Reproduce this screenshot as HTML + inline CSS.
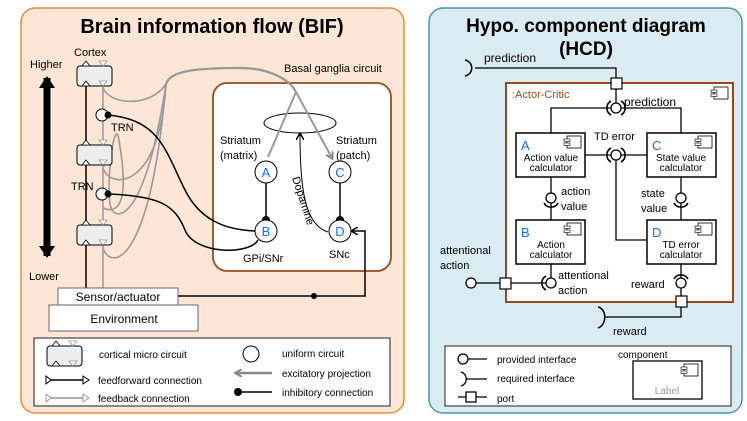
<!DOCTYPE html>
<html><head><meta charset="utf-8"><style>
html,body{margin:0;padding:0;background:#fff;}
svg{display:block;font-family:"Liberation Sans",sans-serif;}
</style></head><body>
<svg width="747" height="421" viewBox="0 0 747 421" xmlns="http://www.w3.org/2000/svg">
<defs>
<marker id="ga" markerWidth="8" markerHeight="8" refX="6" refY="4" orient="auto" markerUnits="userSpaceOnUse"><path d="M0,0 L7,4 L0,8" fill="none" stroke="#888" stroke-width="2"/></marker>
<marker id="ba" markerWidth="8" markerHeight="8" refX="6" refY="4" orient="auto" markerUnits="userSpaceOnUse"><path d="M0,0 L7,4 L0,8" fill="none" stroke="#000" stroke-width="1.5"/></marker>
<g id="cb"><rect x="0" y="0" width="35" height="20" rx="3" fill="#eee" stroke="#000" stroke-width="1"/>
<path d="M5,0 L9,-5 L13,0Z M5,20 L9,15 L13,20Z" fill="#fff" stroke="#000" stroke-width="0.8"/>
<path d="M22,-5 L30,-5 L26,0Z M22,15 L30,15 L26,20Z" fill="#fff" stroke="#999" stroke-width="0.8"/></g>
<g id="ci"><rect x="0" y="0" width="14" height="12" fill="#fff" stroke="#000" stroke-width="0.8"/><rect x="-3" y="3" width="6" height="2.5" fill="#fff" stroke="#000" stroke-width="0.6"/><rect x="-3" y="7" width="6" height="2.5" fill="#fff" stroke="#000" stroke-width="0.6"/></g>
</defs>
<!-- LEFT PANEL -->
<rect x="21" y="8" width="383" height="405" rx="14" fill="#fde6d5" stroke="#ea8a3c" stroke-width="1.5"/>
<text x="212" y="33" font-size="20" font-weight="bold" text-anchor="middle">Brain information flow (BIF)</text>
<text x="74" y="56" font-size="11">Cortex</text>
<text x="30" y="68" font-size="11">Higher</text>
<text x="29" y="280" font-size="11">Lower</text>
<path d="M47,78 L47,256" stroke="#000" stroke-width="7"/>
<path d="M39,88 L47,76 L55,88Z M39,246 L47,258 L55,246Z" fill="#000"/>
<path d="M86,288 L86,85" stroke="#000" stroke-width="1.5"/>
<path d="M103,288 L103,85" stroke="#999" stroke-width="1.5"/>
<g fill="none" stroke="#999" stroke-width="1.6">
<path d="M103,88 C110,105 150,108 166,84"/>
<path d="M166,84 C170,70 200,68 240,68 C270,68 290,80 296,92" stroke-width="2.2"/>
<path d="M103,168 C110,190 160,190 166,84"/>
<path d="M103,248 C110,270 150,270 166,84"/>
<path d="M103,208 C120,215 130,200 118,135 C112,125 105,200 112,210 C118,220 145,220 166,84"/>
</g>
<use href="#cb" x="77" y="66"/>
<use href="#cb" x="77" y="145"/>
<use href="#cb" x="77" y="225"/>
<circle cx="102" cy="115" r="6" fill="#fff" stroke="#000"/><circle cx="108" cy="115" r="3.5" fill="#000"/>
<circle cx="102" cy="194" r="6" fill="#fff" stroke="#000"/><circle cx="108" cy="194" r="3.5" fill="#000"/>
<text x="111" y="131" font-size="11">TRN</text>
<text x="71" y="190" font-size="11">TRN</text>
<text x="284" y="72" font-size="11">Basal ganglia circuit</text>
<rect x="213" y="83" width="178" height="188" rx="14" fill="#fff" stroke="#9a4a1a" stroke-width="1.8"/>
<ellipse cx="300" cy="123" rx="36" ry="10" fill="#fff" stroke="#000"/>
<path d="M296,92 L268,157 M296,92 L332,158" stroke="#999" stroke-width="2" marker-end="url(#ga)" fill="none"/>
<path d="M240,68 C270,68 290,80 296,92" stroke="#999" stroke-width="2.2" fill="none"/>
<g fill="none" stroke="#000" stroke-width="1.5">
<path d="M108,115 C160,120 165,150 185,190 C200,220 225,230 256,231"/>
<path d="M108,194 C160,196 175,205 185,230 C195,255 250,255 258,240"/>
<path d="M178,296 L365,296 L365,231 L352,231" marker-end="url(#ba)"/>
<path d="M328,232 C305,225 300,190 300,134" marker-end="url(#ba)" stroke-width="1"/>
<path d="M266,183 L266,220 M340,183 L340,220"/>
</g>
<circle cx="314" cy="296" r="3" fill="#000"/>
<circle cx="266" cy="220" r="4" fill="#000"/><circle cx="340" cy="220" r="4" fill="#000"/>
<g stroke="#000" fill="#fff">
<circle cx="266" cy="172" r="11"/><circle cx="340" cy="172" r="11"/>
<circle cx="266" cy="231" r="11"/><circle cx="340" cy="231" r="11"/>
</g>
<g font-size="13" fill="#1a6fe0" text-anchor="middle">
<text x="266" y="177">A</text><text x="340" y="177">C</text><text x="266" y="236">B</text><text x="340" y="236">D</text>
</g>
<g font-size="11">
<text x="220" y="144">Striatum</text><text x="220" y="159">(matrix)</text>
<text x="336" y="144">Striatum</text><text x="336" y="159">(patch)</text>
<text x="243" y="262">GPi/SNr</text><text x="329" y="258">SNc</text>
<text transform="translate(292,178) rotate(72)">Dopamine</text>
</g>
<rect x="49" y="305" width="149" height="26" fill="#fff" stroke="#666"/>
<text x="124" y="323" font-size="12" text-anchor="middle">Environment</text>
<rect x="58" y="288" width="120" height="17" fill="#fff" stroke="#666"/>
<text x="118" y="301" font-size="12" text-anchor="middle">Sensor/actuator</text>
<rect x="34" y="338" width="356" height="68" fill="#fff" stroke="#444" stroke-width="1.2"/>
<use href="#cb" x="47" y="346"/>
<text x="99" y="358" font-size="10">cortical micro circuit</text>
<path d="M46,380 L86,380" stroke="#000" stroke-width="1.5"/>
<path d="M46,376 L51,380 L46,384Z M83,376 L89,380 L83,384Z" fill="#fff" stroke="#000"/>
<text x="98" y="384" font-size="10">feedforward connection</text>
<path d="M46,398 L86,398" stroke="#999" stroke-width="1.5"/>
<path d="M46,394 L51,398 L46,402Z M83,394 L89,398 L83,402Z" fill="#fff" stroke="#999"/>
<text x="98" y="402" font-size="10">feedback connection</text>
<circle cx="251" cy="354" r="8" fill="#fff" stroke="#000"/>
<text x="282" y="357" font-size="10">uniform circuit</text>
<path d="M272,373 L236,373" stroke="#888" stroke-width="2.5" marker-end="url(#ga)"/>
<text x="282" y="377" font-size="10">excitatory projection</text>
<path d="M238,392 L272,392" stroke="#000" stroke-width="1.5"/><circle cx="238" cy="392" r="4" fill="#000"/>
<text x="282" y="396" font-size="10">inhibitory connection</text>

<!-- RIGHT PANEL -->
<rect x="429" y="8" width="313" height="405" rx="14" fill="#daecf2" stroke="#4a95a8" stroke-width="1.5"/>
<g font-size="19" font-weight="bold" text-anchor="middle">
<text x="586" y="32">Hypo. component diagram</text><text x="586" y="55">(HCD)</text></g>
<rect x="506" y="83" width="227" height="219" fill="#fff" stroke="#9a4a1a" stroke-width="2"/>
<text x="512" y="98" font-size="11" fill="#9a4a1a">:Actor-Critic</text>
<use href="#ci" x="714" y="87"/>
<g fill="none" stroke="#000" stroke-width="1.3">
<path d="M475,68 L616,68 L616,78"/>
<path d="M616,89 L616,103"/>
<path d="M551,133 L551,108 L611,108 M621,108 L681,108 L681,133"/>
<path d="M585,155 L611,155 M621,155 L647,155"/>
<path d="M616,160 L616,240 L647,240"/>
<path d="M551,177 L551,193 M551,203 L551,220 M681,177 L681,193 M681,203 L681,220"/>
<path d="M551,264 L551,278 M546,283 L476,283"/>
<path d="M681,264 L681,278 M681,288 L681,296 M681,307 L681,317 L605,317"/>
</g>
<path d="M465,60 C474,62 474,74 465,76" fill="none" stroke="#000" stroke-width="1.5"/>
<path d="M598,307 C607,309 607,325 598,328" fill="none" stroke="#000" stroke-width="1.5"/>
<text x="484" y="62" font-size="12">prediction</text>
<text x="624" y="106" font-size="12">prediction</text>
<text x="594" y="140" font-size="11">TD error</text>
<text x="561" y="195" font-size="11">action</text><text x="561" y="210" font-size="11">value</text>
<text x="641" y="197" font-size="11">state</text><text x="641" y="212" font-size="11">value</text>
<text x="440" y="254" font-size="11">attentional</text><text x="440" y="269" font-size="11">action</text>
<text x="558" y="279" font-size="11">attentional</text><text x="558" y="294" font-size="11">action</text>
<text x="631" y="288" font-size="11">reward</text>
<text x="613" y="335" font-size="11">reward</text>
<g fill="#fff" stroke="#000" stroke-width="1.3">
<circle cx="616" cy="108" r="5"/><circle cx="616" cy="155" r="5"/><circle cx="551" cy="198" r="5"/>
<circle cx="681" cy="198" r="5"/><circle cx="551" cy="283" r="5"/><circle cx="681" cy="283" r="5"/>
<circle cx="471" cy="283" r="5"/>
</g>
<g fill="none" stroke="#000" stroke-width="1.6">
<path d="M611,101 A8,8 0 0,0 611,115 M621,101 A8,8 0 0,1 621,115"/>
<path d="M611,148 A8,8 0 0,0 611,162 M621,148 A8,8 0 0,1 621,162"/>
<path d="M544,203 A8,8 0 0,0 558,203"/>
<path d="M674,203 A8,8 0 0,0 688,203"/>
<path d="M546,276 A8,8 0 0,0 546,290"/>
<path d="M674,279 A8,8 0 0,1 688,279"/>
</g>
<g fill="#fff" stroke="#000" stroke-width="1.2">
<rect x="611" y="78" width="11" height="11"/><rect x="500" y="278" width="11" height="11"/><rect x="676" y="296" width="11" height="11"/>
</g>
<g fill="#fff" stroke="#000" stroke-width="1.5">
<rect x="516" y="133" width="69" height="44"/><rect x="647" y="133" width="69" height="44"/>
<rect x="516" y="220" width="69" height="44"/><rect x="647" y="220" width="69" height="44"/>
</g>
<use href="#ci" x="567" y="136"/><use href="#ci" x="698" y="136"/><use href="#ci" x="567" y="223"/><use href="#ci" x="698" y="223"/>
<g font-size="13" fill="#1a6fe0"><text x="521" y="150">A</text><text x="652" y="150">C</text><text x="521" y="237">B</text><text x="652" y="237">D</text></g>
<g font-size="10" text-anchor="middle">
<text x="551" y="161">Action value</text><text x="551" y="171">calculator</text>
<text x="681" y="161">State value</text><text x="681" y="171">calculator</text>
<text x="551" y="248">Action</text><text x="551" y="258">calculator</text>
<text x="681" y="248">TD error</text><text x="681" y="258">calculator</text>
</g>
<rect x="445" y="346" width="286" height="60" fill="#fff" stroke="#444" stroke-width="1.2"/>
<circle cx="463" cy="359" r="5" fill="#fff" stroke="#000" stroke-width="1.3"/><path d="M468,359 L487,359" stroke="#000" stroke-width="1.3"/>
<text x="497" y="363" font-size="10">provided interface</text>
<path d="M461,372 C468,374 468,384 461,386 M466,379 L487,379" fill="none" stroke="#000" stroke-width="1.3"/>
<text x="497" y="382" font-size="10">required interface</text>
<path d="M458,397 L487,397" stroke="#000" stroke-width="1.3"/><rect x="466" y="392" width="10" height="10" fill="#fff" stroke="#000" stroke-width="1.3"/>
<text x="497" y="402" font-size="10">port</text>
<text x="618" y="358" font-size="10">component</text>
<rect x="633" y="361" width="69" height="38" fill="#fff" stroke="#000" stroke-width="1.3"/>
<use href="#ci" x="684" y="364"/>
<text x="667" y="394" font-size="10" fill="#999" text-anchor="middle">Label</text>
</svg>
</body></html>
